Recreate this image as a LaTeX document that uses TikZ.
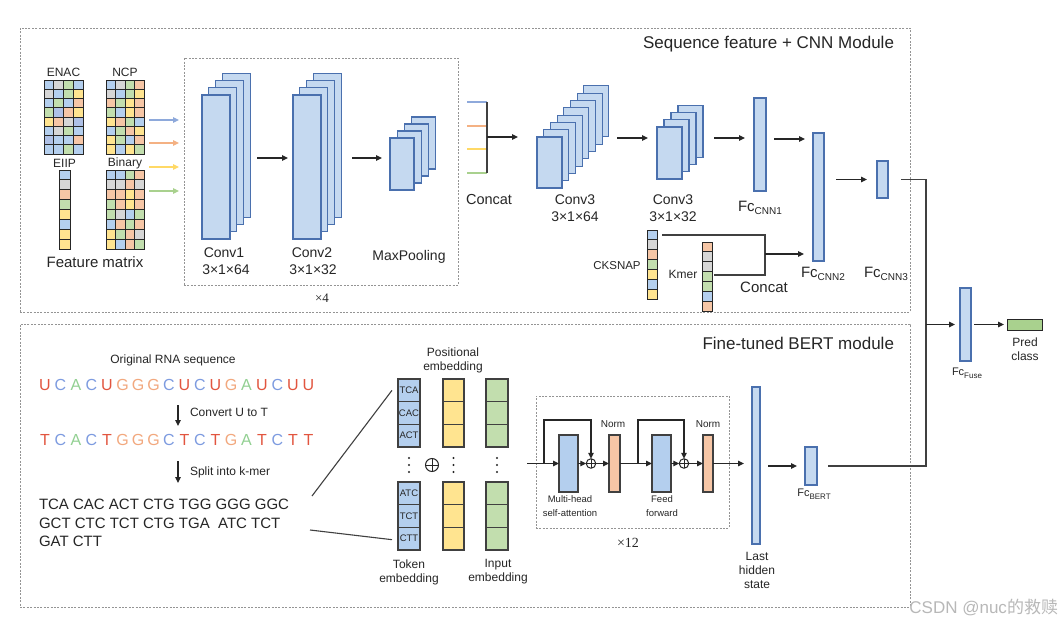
\documentclass[tikz,border=0pt]{standalone}
\usepackage{fontspec}
\setmainfont{Liberation Sans}
\newfontfamily\serifnum{Liberation Serif}
\newfontfamily\cjkfont{Noto Sans CJK SC}
\usetikzlibrary{arrows.meta,calc}
\definecolor{qb}{HTML}{B4CFEE}
\definecolor{qg}{HTML}{D6D6D6}
\definecolor{qn}{HTML}{C2DEAE}
\definecolor{qo}{HTML}{F6C6A6}
\definecolor{qy}{HTML}{FFE490}
\definecolor{ql}{HTML}{AEC0E6}
\definecolor{lf}{HTML}{C5D9F0}
\definecolor{lb}{HTML}{4A70AE}
\definecolor{ab}{HTML}{8EA9DB}
\definecolor{ao}{HTML}{F4B183}
\definecolor{ay}{HTML}{FFD966}
\definecolor{ag}{HTML}{A9D18E}
\definecolor{cu}{HTML}{E2553F}
\definecolor{cc}{HTML}{7D9BE0}
\definecolor{ca}{HTML}{92D092}
\definecolor{cg}{HTML}{F2A87E}
\definecolor{pc}{HTML}{A9D18E}
\definecolor{tx}{HTML}{262626}
\newcommand\fsz[2]{\fontsize{#1}{#2}\selectfont}
\newcommand\rbox[6]{\node[#2, anchor=north west, minimum width={(#5-#3)*1pt}, minimum height={(#6-#4)*1pt}] (#1) at (#3,#4) {};}
\newcommand\stk[8]{\foreach \i in {#6,...,1}{\node[lay, anchor=north west, minimum width=#4pt, minimum height=#5pt] (#1-\i) at ({#2+(\i-1)*#7},{#3-(\i-1)*#8}) {};}}
\newcommand\fgrid[6]{\foreach \c [count=\k from 0] in {#6}{\pgfmathtruncatemacro\myrow{\k/#3}\pgfmathtruncatemacro\mycol{mod(\k,#3)}\draw[cellst, fill=\c] ({#1+\mycol*#4},{#2+\myrow*#5}) rectangle ++(#4,#5);}}
\newcommand\fcl[4]{Fc\raisebox{-#4pt}{\fsz{#2}{#2}#3}}
\tikzset{
  dbox/.style={draw=black!42, dash pattern=on 2pt off 1.4pt, line width=0.9pt, inner sep=0pt, outer sep=0pt},
  lay/.style={draw=lb, fill=lf, line width=1.1pt, inner sep=0pt, outer sep=0pt},
  fcbox/.style={draw=lb, fill=lf, line width=1.1pt, inner sep=0pt, outer sep=0pt},
  tbox/.style={draw=black!75, line width=1.1pt, inner sep=0pt, outer sep=0pt},
  cellst/.style={draw=black!85, line width=1pt},
  arr/.style={-{Triangle[length=6pt,width=5.5pt]}, line width=1.1pt, draw=tx},
  carr/.style={-{Triangle[length=6pt,width=5.5pt]}, line width=1.2pt},
  ln/.style={line width=1.1pt, draw=black!75},
  lbl/.style={inner sep=0pt, outer sep=0pt},
  opl/.style={circle, draw=tx, line width=1pt, inner sep=0pt, outer sep=0pt, minimum size=#1,
    path picture={\draw[tx, line width=1pt] (path picture bounding box.north) -- (path picture bounding box.south) (path picture bounding box.west) -- (path picture bounding box.east);}},
  cel/.style={draw=black!75, line width=1.1pt, inner sep=0pt, outer sep=0pt, minimum height=22.67pt},
}
\begin{document}
\begin{tikzpicture}[x=1pt,y=-1pt, every node/.append style={text=tx}]
\useasboundingbox (0,0) rectangle (1062,626);
\fill[white] (0,0) rectangle (1062,626);

% ---------- module boxes ----------
\rbox{topbox}{dbox}{20}{28}{910}{312}
\rbox{botbox}{dbox}{20}{324}{910}{607}
\rbox{repbox}{dbox}{184}{58}{458}{285}
\rbox{trbox}{dbox}{536}{396}{729}{528}
\node[lbl, anchor=east, font=\fsz{17}{20}] (ttop) at (894,44) {Sequence feature + CNN Module};
\node[lbl, anchor=east, font=\fsz{17}{20}] (tbot) at (894,343) {Fine-tuned BERT module};

% ---------- feature matrix ----------
\fgrid{44}{80}{4}{9.75}{9.25}{qb,qg,qn,qb, qg,qb,qn,qy, qb,qn,qb,qo, qn,ql,qo,qy, qy,qo,qg,ql, qb,qg,qn,qb, ql,qb,qb,qo, qb,qb,qn,qb}
\fgrid{106}{80}{4}{9.6}{9.25}{qb,qg,qn,qo, qg,qb,qn,qy, qo,qn,qy,qo, qn,qb,qy,qo, qy,qo,qn,qb, qb,qn,qo,qy, qy,qn,qb,qo, qy,qb,qy,qn}
\fgrid{59}{170}{1}{11}{9.9}{qb,qg,qo,qn,qy,qb,qy,qy}
\fgrid{106}{170}{4}{9.6}{9.9}{qb,qb,qn,qo, qg,qg,qo,qg, qo,qo,qy,qo, qn,qo,qy,qo, qn,qg,qb,qn, qb,qo,qn,qo, qy,qn,qo,qg, qy,qb,qo,qn}
\node[lbl, font=\fsz{12}{14}] (lenac) at (63.5,72) {ENAC};
\node[lbl, font=\fsz{12}{14}] (lncp) at (125,72) {NCP};
\node[lbl, font=\fsz{12}{14}] (leiip) at (64.5,163) {EIIP};
\node[lbl, font=\fsz{12}{14}] (lbin) at (125,163) {Binary};
\node[lbl, font=\fsz{15}{17}] (lfm) at (95,262) {Feature matrix};
\foreach \yy/\cl [count=\n] in {120/ab,143/ao,167/ay,191/ag}{
  \coordinate (fa\n) at (149,\yy); \coordinate (fb\n) at (179,\yy);
  \draw[carr, draw=\cl] (fa\n) -- (fb\n);}

% ---------- conv stacks ----------
\stk{cva}{202}{95}{28}{144}{4}{6.7}{7.3}
\stk{cvb}{293}{95}{28}{144}{4}{6.7}{7.3}
\stk{mxp}{390}{138}{24}{52}{4}{7.3}{7}
\coordinate (a1s) at (257,158); \coordinate (a1e) at (288,158); \draw[arr] (a1s) -- (a1e);
\coordinate (a2s) at (352,158); \coordinate (a2e) at (382,158); \draw[arr] (a2s) -- (a2e);
\node[lbl, font=\fsz{14}{16}] (lc1) at (224,253) {Conv1};
\node[lbl, font=\fsz{14}{16}] (lc1d) at (226,270) {3×1×64};
\node[lbl, font=\fsz{14}{16}] (lc2) at (312,253) {Conv2};
\node[lbl, font=\fsz{14}{16}] (lc2d) at (313,270) {3×1×32};
\node[lbl, font=\fsz{14}{16}] (lmp) at (409,257) {MaxPooling};
\node[lbl, font=\serifnum\fsz{13}{15}] (lx4) at (322,298) {×4};

% ---------- concat ----------
\foreach \yy/\cl [count=\n] in {102/ab,126/ao,149/ay,173/ag}{
  \coordinate (ca\n) at (467,\yy); \coordinate (cb\n) at (487,\yy);
  \draw[line width=1.2pt, draw=\cl] (ca\n) -- (cb\n);}
\draw[ln] (cb1) -- (cb4);
\coordinate (cm) at (487,137); \coordinate (cme) at (518,137); \draw[arr] (cm) -- (cme);
\node[lbl, font=\fsz{14.5}{16}] (lcat) at (489,200) {Concat};

\stk{cvc}{537}{137}{25}{51}{8}{6.7}{7.3}
\stk{cvd}{657}{127}{25}{52}{4}{7}{7.3}
\coordinate (a3s) at (617,138); \coordinate (a3e) at (648,138); \draw[arr] (a3s) -- (a3e);
\coordinate (a4s) at (714,138); \coordinate (a4e) at (745,138); \draw[arr] (a4s) -- (a4e);
\node[lbl, font=\fsz{14}{16}] (lc3) at (575,200) {Conv3};
\node[lbl, font=\fsz{14}{16}] (lc3d) at (575,217) {3×1×64};
\node[lbl, font=\fsz{14}{16}] (lc4) at (673,200) {Conv3};
\node[lbl, font=\fsz{14}{16}] (lc4d) at (673,217) {3×1×32};

% ---------- FC layers ----------
\rbox{fca}{fcbox}{754}{98}{766}{191}
\rbox{fcb2}{fcbox}{813}{133}{824}{261}
\rbox{fcc}{fcbox}{877}{161}{888}{198}
\coordinate (a5s) at (774,139); \coordinate (a5e) at (805,139); \draw[arr] (a5s) -- (a5e);
\draw[arr] ([xshift=12pt]fcb2.east |- fcc.west) -- ([xshift=-10pt]fcc.west);
\node[lbl, font=\fsz{15}{17}] (lfa) at (760,208) {\fcl{15}{10}{CNN1}{3}};
\node[lbl, font=\fsz{15}{17}] (lfb) at (823,274) {\fcl{15}{10}{CNN2}{3}};
\node[lbl, font=\fsz{15}{17}] (lfc) at (886,274) {\fcl{15}{10}{CNN3}{3}};

% ---------- CKSNAP / Kmer ----------
\fgrid{647}{230}{1}{10}{9.86}{qb,qg,qo,qn,qy,qb,qy}
\fgrid{702}{242}{1}{10}{9.86}{qo,qg,qg,qn,qn,qb,qo}
\node[lbl, font=\fsz{11.5}{13}] (lck) at (617,266) {CKSNAP};
\node[lbl, font=\fsz{12}{14}] (lkm) at (683,274) {Kmer};
\coordinate (ck) at (662,235); \coordinate (km) at (714,275); \coordinate (cj) at (765,254);
\draw[ln] (ck) -- ++(103,0) |- (km);
\draw[arr] (cj) -- ([xshift=-9pt]fcb2.west |- cj);
\node[lbl, font=\fsz{15}{17}] (lcat2) at (764,287) {Concat};

% ---------- fusion ----------
\rbox{fuse}{fcbox}{960}{288}{971}{361}
\node[draw=black!85, fill=pc, line width=1.1pt, inner sep=0pt, anchor=north west, minimum width=35pt, minimum height=11pt] (predf) at (1007,319) {};
\node[lbl, font=\fsz{11}{13}] (lfuse) at (967,373) {\fcl{11}{8}{Fuse}{2.5}};
\node[lbl, align=center, font=\fsz{12}{14}] (lpred) at (1025,349) {Pred\\class};
\coordinate (jt) at (926,179.5); \coordinate (jb) at (926,466); \coordinate (jm) at (926,324.5);
\rbox{fcbert}{fcbox}{805}{447}{817}{485}
\draw[ln] ([xshift=13pt]fcc.east) -- (jt) -- (jb) -- ([xshift=11pt]fcbert.east);
\draw[arr] (jm) -- ([xshift=-5pt]fuse.west);
\draw[arr] ([xshift=3pt]fuse.east) -- ([xshift=-3pt]predf.west |- fuse.east);

% ---------- RNA sequence ----------
\node[lbl, font=\fsz{12}{14}] (lorig) at (173,360) {Original RNA sequence};
\foreach \L/\C [count=\k from 0] in {U/cu,C/cc,A/ca,C/cc,U/cu,G/cg,G/cg,G/cg,C/cc,U/cu,C/cc,U/cu,G/cg,A/ca,U/cu,C/cc,U/cu,U/cu}
  \node[lbl, text=\C, font=\fsz{16}{18}] (ru\k) at ({45+\k*15.5},385) {\L};
\foreach \L/\C [count=\k from 0] in {T/cu,C/cc,A/ca,C/cc,T/cu,G/cg,G/cg,G/cg,C/cc,T/cu,C/cc,T/cu,G/cg,A/ca,T/cu,C/cc,T/cu,T/cu}
  \node[lbl, text=\C, font=\fsz{16}{18}] (rt\k) at ({45+\k*15.5},440) {\L};
\coordinate (d1s) at (178,405); \coordinate (d1e) at (178,426); \draw[arr] (d1s) -- (d1e);
\coordinate (d2s) at (178,461); \coordinate (d2e) at (178,483); \draw[arr] (d2s) -- (d2e);
\node[lbl, anchor=west, font=\fsz{12}{14}] (lconv) at (190,412) {Convert U to T};
\node[lbl, anchor=west, font=\fsz{12}{14}] (lsplit) at (190,472) {Split into k-mer};
\node[lbl, anchor=west, font=\fsz{15}{17}] (km1) at (39,504) {TCA CAC ACT CTG TGG GGG GGC};
\node[lbl, anchor=west, font=\fsz{15}{17}] (km2) at (39,523) {GCT CTC TCT CTG TGA\ \ ATC TCT};
\node[lbl, anchor=west, font=\fsz{15}{17}] (km3) at (39,541) {GAT CTT};

% ---------- embeddings ----------
\foreach \t/\yy [count=\n] in {TCA/390.33,CAC/413,ACT/435.67,ATC/493.33,TCT/516,CTT/538.67}{
  \node[cel, fill=qb, minimum width=22pt, font=\fsz{9.5}{11}] (tk\n) at (409,\yy) {\t};
  \node[cel, fill=qy, minimum width=21pt] (pe\n) at (453.5,\yy) {};
  \node[cel, fill=qn, minimum width=22pt] (ie\n) at (497,\yy) {};}
\foreach \xx in {409,453.5,497}{\foreach \yy in {458,465,472}{\fill[tx] (\xx,\yy) circle (1.2);}}
\node[opl=13pt] (oemb) at (432,465) {};
\coordinate (kl1) at (312,496); \coordinate (kl2) at (310,530);
\draw[ln] (kl1) -- ($(tk1.west)+(-6,0)$);
\draw[ln] (kl2) -- ($(tk6.west)+(-6,1)$);
\node[lbl, align=center, font=\fsz{12}{14}] (lpos) at (453,360) {Positional\\embedding};
\node[lbl, align=center, font=\fsz{12}{14}] (ltok) at (409,572) {Token\\embedding};
\node[lbl, align=center, font=\fsz{12}{14}] (linp) at (498,572) {Input\\embedding};

% ---------- transformer ----------
\rbox{mha}{tbox, fill=qb}{559}{435}{578}{492}
\rbox{nma}{tbox, fill=qo}{609}{435}{620}{492}
\rbox{ffd}{tbox, fill=qb}{652}{435}{671}{492}
\rbox{nmb}{tbox, fill=qo}{703}{435}{713}{492}
\node[opl=9.5pt] (opa) at (591,463.5) {};
\node[opl=9.5pt] (opb) at (684,463.5) {};
\coordinate (tin) at (527,463.5); \coordinate (ska) at (544,463.5); \coordinate (skb) at (638,463.5);
\draw[arr] (tin) -- (mha.west);
\draw[arr] (ska) -- ++(0,-43.5) -| (opa.north);
\draw[arr] (mha.east) -- (opa.west);
\draw[arr] (opa.east) -- (nma.west);
\draw[arr] (nma.east) -- (ffd.west);
\draw[arr] (skb) -- ++(0,-43.5) -| (opb.north);
\draw[arr] (ffd.east) -- (opb.west);
\draw[arr] (opb.east) -- (nmb.west);
\node[lbl, font=\fsz{10}{12}] (lna) at (613,424) {Norm};
\node[lbl, font=\fsz{10}{12}] (lnb) at (708,424) {Norm};
\node[lbl, align=center, font=\fsz{9.5}{14}] (lmha) at (570,506) {Multi-head\\self-attention};
\node[lbl, align=center, font=\fsz{9.5}{14}] (lffd) at (662,506) {Feed\\forward};
\node[lbl, font=\serifnum\fsz{14}{16}] (lx12) at (628,543) {×12};

% ---------- last hidden / BERT fc ----------
\rbox{lhs}{fcbox}{752}{387}{760}{544}
\draw[arr] (nmb.east) -- ([xshift=-8pt]lhs.west |- nmb.east);
\draw[arr] ([xshift=8pt]lhs.east |- fcbert.west) -- ([xshift=-8pt]fcbert.west);
\node[lbl, align=center, font=\fsz{12}{14}] (llhs) at (757,570) {Last\\hidden\\state};
\node[lbl, font=\fsz{11}{13}] (lfbert) at (814,494) {\fcl{11}{8}{BERT}{2.5}};

% ---------- watermark ----------
\node[lbl, anchor=east, text=black!28, font=\fsz{17}{19}] (wm) at (1058,607) {CSDN @nuc{\cjkfont 的救赎}};
\end{tikzpicture}
\end{document}
